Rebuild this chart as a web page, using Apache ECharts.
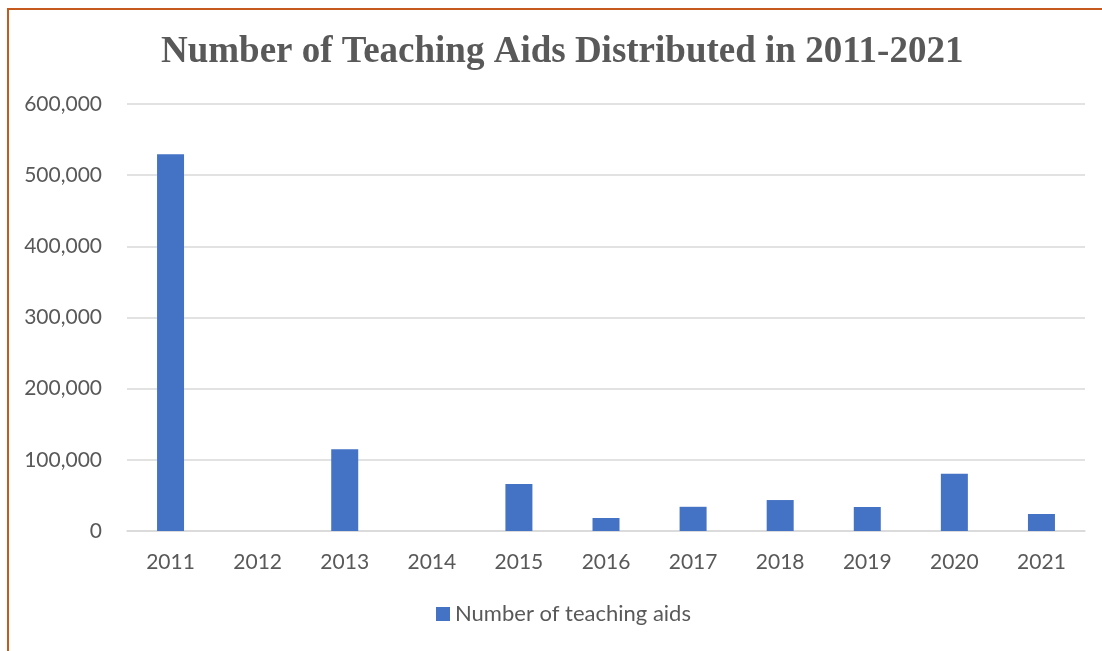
<!DOCTYPE html>
<html>
<head>
<meta charset="utf-8">
<script src="https://cdn.jsdelivr.net/npm/echarts@6/dist/echarts.min.js"></script>
<style>
html,body{margin:0;padding:0;background:#fff;overflow:hidden;}
#frame{position:absolute;left:7px;top:8px;width:1200px;height:800px;border-left:2px solid #C65A1E;border-top:2px solid #C65A1E;box-sizing:border-box;}
#chart{position:absolute;left:0;top:0;width:1102px;height:651px;}
</style>
</head>
<body>
<div id="frame"></div>
<div id="chart"></div>
<script>
const categories = ['2011','2012','2013','2014','2015','2016','2017','2018','2019','2020','2021'];
const teachingAids = [529500, 0, 114700, 0, 66000, 18300, 34000, 43500, 33700, 80500, 23900];
const seriesName = 'Number of teaching aids';
const titleText = 'Number of Teaching Aids Distributed in 2011-2021';

const chart = echarts.init(document.getElementById('chart'), null, {renderer:'canvas'});
chart.setOption({
  animation:false,
  backgroundColor:'transparent',
  title:{
    text:titleText,
    left:156, top:29,
    textStyle:{fontFamily:'"Liberation Serif","Times New Roman",serif',fontWeight:'bold',fontSize:37,color:'#595959'}
  },
  legend:{
    data:[seriesName],
    top:598, left:431,
    itemWidth:14, itemHeight:14, itemGap:8,
    icon:'rect',
    textStyle:{fontFamily:'Lato, "Noto Sans", sans-serif',fontSize:22,color:'#595959'}
  },
  grid:{left:127,right:17,top:104,bottom:120,containLabel:false},
  xAxis:{
    type:'category',
    data:categories,
    axisTick:{show:false},
    axisLine:{lineStyle:{color:'#d9d9d9',width:1.5}},
    axisLabel:{margin:21,fontFamily:'Lato, "Noto Sans", sans-serif',fontSize:21,color:'#595959'}
  },
  yAxis:{
    type:'value',
    min:0,max:600000,interval:100000,
    axisLine:{show:false},
    axisTick:{show:false},
    splitLine:{lineStyle:{color:'#d9d9d9',width:1.5}},
    axisLabel:{margin:25,fontFamily:'Lato, "Noto Sans", sans-serif',fontSize:21,color:'#595959',
      formatter:v=>v.toLocaleString('en-US')}
  },
  series:[{
    name:seriesName,
    type:'bar',
    data:teachingAids,
    barWidth:27,
    itemStyle:{color:'#4472C4'}
  }]
});
</script>
</body>
</html>
